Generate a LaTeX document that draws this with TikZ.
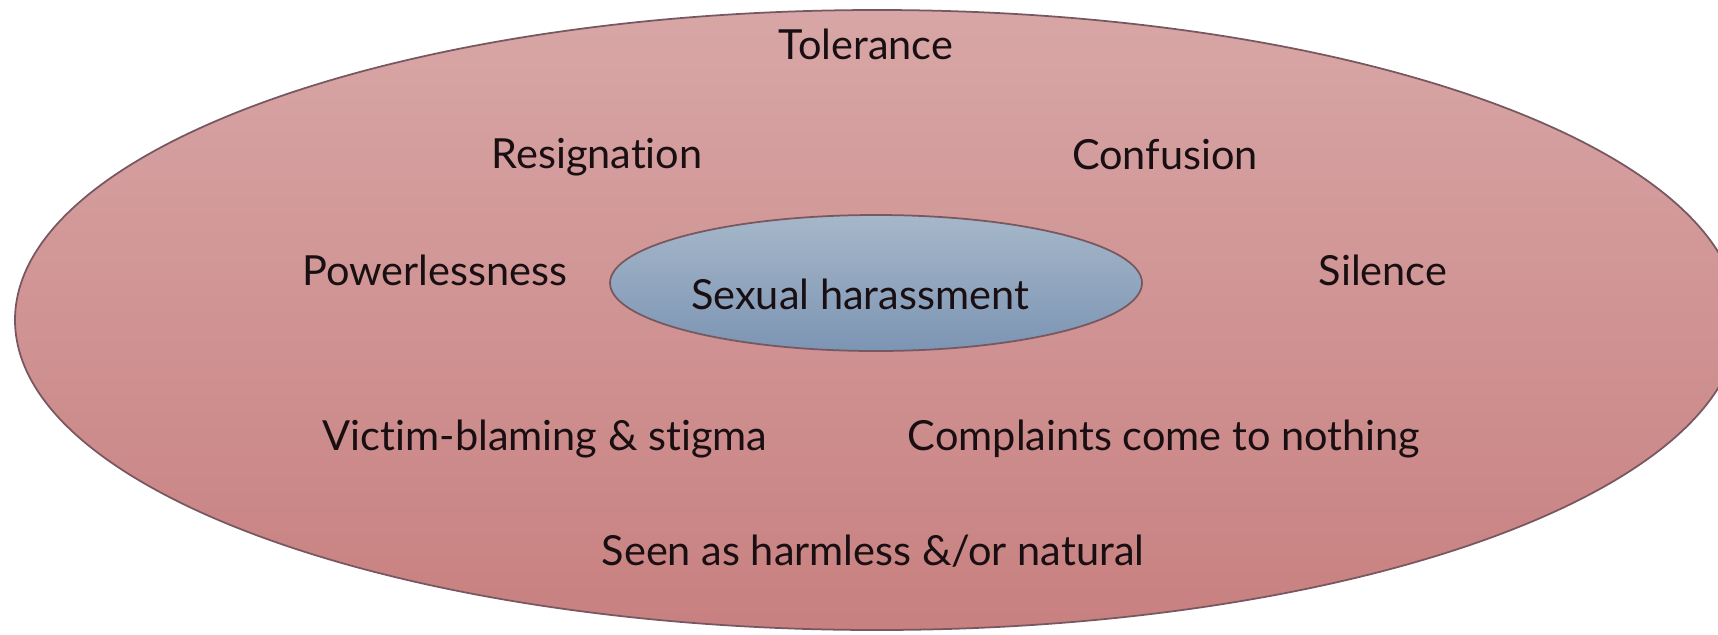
\documentclass[tikz,border=0pt]{standalone}
\usepackage{fontspec}
\setmainfont[Ligatures={NoCommon}]{Lato}
\definecolor{outertop}{RGB}{216,166,166}
\definecolor{outerbottom}{RGB}{200,128,128}
\definecolor{innertop}{RGB}{166,183,201}
\definecolor{innerbottom}{RGB}{124,149,180}
\definecolor{rim}{RGB}{120,88,96}
\definecolor{ink}{RGB}{25,15,18}
\tikzstyle{base}=[inner sep=0pt, outer sep=0pt]
\tikzstyle{word}=[base, text=ink, font=\fontsize{11.8}{14}\selectfont]

\begin{document}
\begin{tikzpicture}[base]
    \useasboundingbox (0,0) rectangle (17.18,6.34);
    \clip (0,0) rectangle (17.18,6.34);
        % outer climate, inner core
        \draw [rim, line width=0.5pt, top color=outertop, bottom color=outerbottom] (8.77,3.14) ellipse (8.62 and 3.10);
        \draw [rim, line width=0.5pt, top color=innertop, bottom color=innerbottom] (8.76,3.51) ellipse (2.66 and 0.68);
        \node (core) [word] at (8.60,3.40) {Sexual harassment};
        \node (tolerance) [word] at (8.66,5.90) {Tolerance};
        \node (resignation) [word] at (5.97,4.77) {Resignation};
        \node (confusion) [word] at (11.65,4.79) {Confusion};
        \node (powerless) [word] at (4.35,3.64) {Powerlessness};
        \node (silence) [word] at (13.83,3.64) {Silence};
        \node (blaming) [word] at (5.45,1.95) {Victim-blaming \& stigma};
        \node (complaints) [word] at (11.64,1.95) {Complaints come to nothing};
        \node (harmless) [word] at (8.73,0.83) {Seen as harmless \&/or natural};
\end{tikzpicture}
\end{document}
